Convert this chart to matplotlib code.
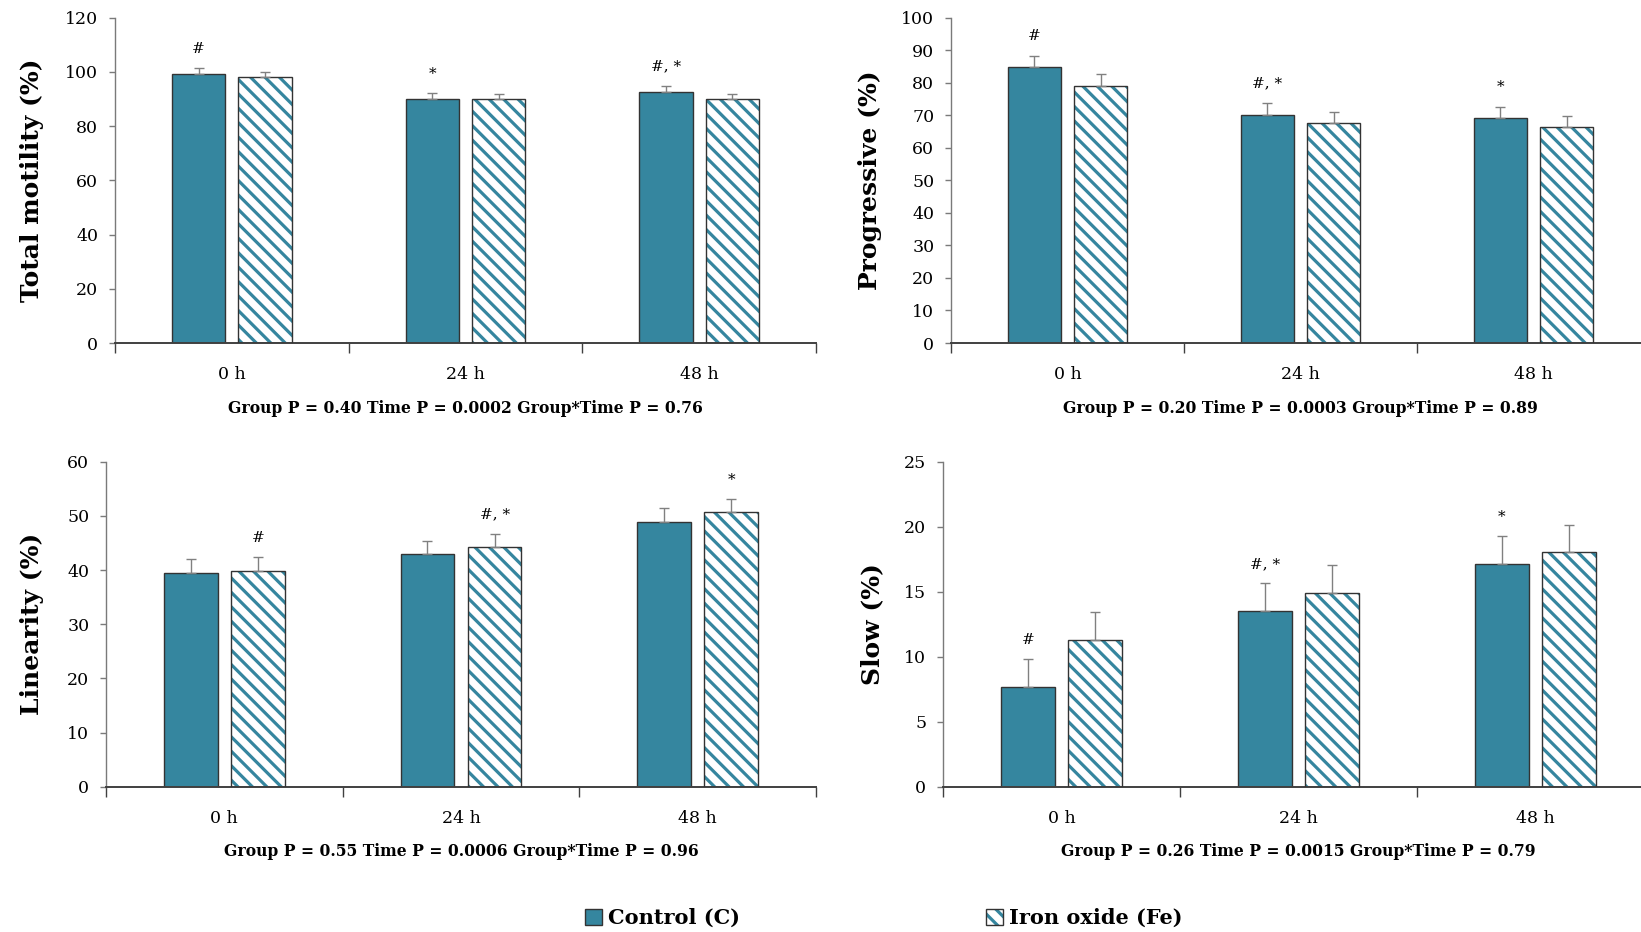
import numpy as np
import matplotlib
matplotlib.use("Agg")
import matplotlib.pyplot as plt
from matplotlib.patches import Patch
from matplotlib.legend_handler import HandlerTuple

# ── Data ───────────────────────────────────────────────────────────────────
times = ["0 h", "24 h", "48 h"]

motility_c      = [99.2, 89.9, 92.6]
motility_fe     = [97.9, 89.8, 89.8]
motility_c_err  = [2.0, 2.1, 2.1]
motility_fe_err = [2.1, 1.9, 1.9]
motility_marks  = ["#", "*", "#, *"]          # on control bars

progressive_c      = [84.7, 70.1, 69.0]
progressive_fe     = [78.9, 67.5, 66.3]
progressive_c_err  = [3.6, 3.7, 3.6]
progressive_fe_err = [3.6, 3.6, 3.5]
progressive_marks  = ["#", "#, *", "*"]       # on control bars

linearity_c      = [39.5, 42.9, 48.9]
linearity_fe     = [39.9, 44.3, 50.8]
linearity_c_err  = [2.5, 2.4, 2.5]
linearity_fe_err = [2.5, 2.4, 2.3]
linearity_marks  = ["#", "#, *", "*"]         # on iron oxide bars

slow_c      = [7.67, 13.51, 17.15]
slow_fe     = [11.28, 14.92, 18.03]
slow_c_err  = [2.12, 2.13, 2.13]
slow_fe_err = [2.13, 2.16, 2.12]
slow_marks  = ["#", "#, *", "*"]              # on control bars

stats_motility    = "Group P = 0.40 Time P = 0.0002 Group*Time P = 0.76"
stats_progressive = "Group P = 0.20 Time P = 0.0003 Group*Time P = 0.89"
stats_linearity   = "Group P = 0.55 Time P = 0.0006 Group*Time P = 0.96"
stats_slow        = "Group P = 0.26 Time P = 0.0015 Group*Time P = 0.79"

# ── Style ──────────────────────────────────────────────────────────────────
TEAL  = "#35869f"
EDGE  = "#333333"
AXCOL = "#7a7a7a"
ERRC  = "#808080"
W, H  = 1641, 932
DPI   = 130            # hatch spacing scales with dpi
K     = 100 / DPI      # sizes below were tuned in "points at 100 dpi"
BAR_W = 0.227
OFF   = 0.142
HATCH = "\\\\\\"

plt.rcParams["font.family"] = "DejaVu Serif"
plt.rcParams["hatch.linewidth"] = 2.3 * K


def draw_panel(ax, c, fe, c_err, fe_err, ymax, step, ylabel, stats,
               marks, mark_on, label_x):
    x = np.arange(len(times))
    # control bars
    ax.bar(x - OFF, c, BAR_W, color=TEAL, edgecolor=EDGE, linewidth=1.0 * K, zorder=2)
    # iron oxide bars: hatch layer + outline layer
    ax.bar(x + OFF, fe, BAR_W, color="white", edgecolor=TEAL, hatch=HATCH,
           linewidth=0, zorder=2)
    ax.bar(x + OFF, fe, BAR_W, fill=False, edgecolor=EDGE, linewidth=1.0 * K, zorder=3)

    for xs, vals, errs in ((x - OFF, c, c_err), (x + OFF, fe, fe_err)):
        ax.errorbar(xs, vals, yerr=[np.zeros(len(vals)), errs], fmt="none",
                    ecolor=ERRC, elinewidth=1.0 * K, capsize=3.5 * K,
                    capthick=1.0 * K, zorder=4)

    vals, errs, xs = (c, c_err, x - OFF) if mark_on == "c" else (fe, fe_err, x + OFF)
    for xi, v, e, m in zip(xs, vals, errs, marks):
        ax.annotate(m, (xi, v + e), xytext=(0, 9 * K), textcoords="offset points",
                    ha="center", va="bottom", fontsize=11 * K)

    ax.set_xlim(-0.5, 2.5)
    ax.set_ylim(0, ymax)
    ax.set_yticks(np.arange(0, ymax + 0.1, step))
    ax.set_xticks(x)
    ax.set_xticklabels(times)
    ax.set_xticks([-0.5, 0.5, 1.5, 2.5], minor=True)
    ax.tick_params(axis="x", which="major", length=0, pad=16.5 * K, labelsize=12.5 * K)
    ax.tick_params(axis="x", which="minor", length=7 * K, direction="out",
                   color="#404040", width=1.0 * K)
    ax.tick_params(axis="y", length=4 * K, direction="out", color=AXCOL,
                   width=1.0 * K, labelsize=12.5 * K, pad=8 * K)

    for s in ("top", "right"):
        ax.spines[s].set_visible(False)
    ax.spines["left"].set_color(AXCOL)
    ax.spines["left"].set_linewidth(1.0 * K)
    ax.spines["bottom"].set_color("#404040")
    ax.spines["bottom"].set_linewidth(1.4 * K)

    ax.set_ylabel(ylabel, fontsize=18 * K, fontweight="bold")
    ax.yaxis.set_label_coords(label_x, 0.5)
    ax.text(0.5, -0.2, stats, transform=ax.transAxes, ha="center",
            va="center", fontsize=11.3 * K, fontweight="bold")


fig = plt.figure(figsize=(W / DPI, H / DPI), dpi=DPI)


def px_axes(left, top, right, bottom):
    return fig.add_axes([left / W, 1 - bottom / H, (right - left) / W,
                         (bottom - top) / H])


ax1 = px_axes(115, 17.5, 816, 343)
ax2 = px_axes(951, 17.5, 1650, 343)
ax3 = px_axes(106, 461.7, 816, 786.7)
ax4 = px_axes(943, 461.7, 1654, 786.7)

draw_panel(ax1, motility_c, motility_fe, motility_c_err, motility_fe_err,
           120, 20, "Total motility (%)", stats_motility, motility_marks, "c", -0.101)
draw_panel(ax2, progressive_c, progressive_fe, progressive_c_err, progressive_fe_err,
           100, 10, "Progressive (%)", stats_progressive, progressive_marks, "c", -0.099)
draw_panel(ax3, linearity_c, linearity_fe, linearity_c_err, linearity_fe_err,
           60, 10, "Linearity (%)", stats_linearity, linearity_marks, "fe", -0.087)
draw_panel(ax4, slow_c, slow_fe, slow_c_err, slow_fe_err,
           25, 5, "Slow (%)", stats_slow, slow_marks, "c", -0.082)

# ── Legend ─────────────────────────────────────────────────────────────────
h_c = Patch(facecolor=TEAL, edgecolor=EDGE, linewidth=1.0 * K)
h_fe = (Patch(facecolor="white", edgecolor=TEAL, hatch=HATCH, linewidth=0),
        Patch(fill=False, edgecolor=EDGE, linewidth=1.0 * K))
fig.legend([h_c, h_fe], ["Control (C)", "Iron oxide (Fe)"],
           handler_map={tuple: HandlerTuple(ndivide=1)},
           loc="center", bbox_to_anchor=(884 / W, 1 - 918 / H), ncol=2,
           frameon=False, columnspacing=11.8, handlelength=0.8,
           handleheight=0.8, handletextpad=0.3, borderpad=0,
           prop={"size": 15 * K, "weight": "bold"})

fig.savefig("out.png", dpi=DPI)
